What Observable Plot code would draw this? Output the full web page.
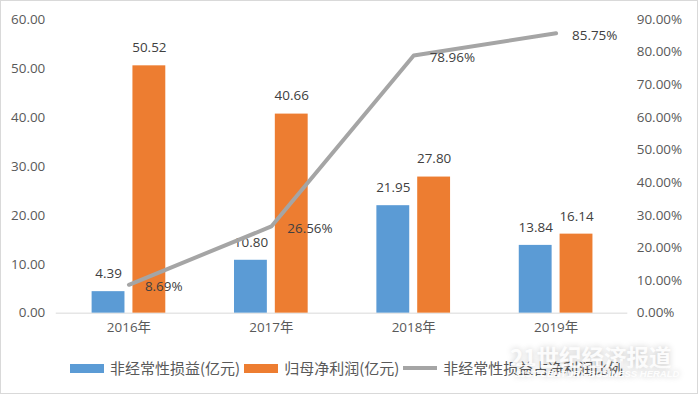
<!DOCTYPE html>
<html><head><meta charset="utf-8">
<script src="https://cdn.jsdelivr.net/npm/d3@7"></script>
<script src="https://cdn.jsdelivr.net/npm/@observablehq/plot@0.6"></script>
<style>
body{margin:0;background:#fff;}
#wrap{position:relative;width:698px;height:394px;border:1px solid #d9d9d9;box-sizing:border-box;overflow:hidden;font-family:"Open Sans","Noto Sans CJK SC",sans-serif;}
#chart{position:absolute;left:-1px;top:-1px;}
#legend{position:absolute;left:69px;top:357px;display:flex;align-items:center;font-family:"Noto Sans CJK SC",sans-serif;font-size:15px;color:#595959;white-space:nowrap;line-height:20px;}
#legend .sw{width:34px;height:9px;margin-right:6px;}
#legend .ln{width:34px;height:3.5px;margin-right:6px;}
#legend .tx{margin-right:4px;}
#wm{position:absolute;left:509px;top:343px;color:rgba(255,255,255,0.92);text-shadow:0 0 6px rgba(0,0,0,0.22);font-family:"Noto Sans CJK SC",sans-serif;white-space:nowrap;}
#wm .a{font-size:22.5px;font-weight:bold;line-height:24px;}
#wm .b{font-size:9.5px;font-style:italic;font-weight:bold;font-family:"Liberation Sans",sans-serif;line-height:12px;margin-left:5px;}
</style></head><body>
<div id="wrap"><div id="chart"></div><div id="legend"></div><div id="wm"></div></div>
<script>
const years = ["2016年","2017年","2018年","2019年"];
const nonRecurring = [4.39, 10.80, 21.95, 13.84];
const netProfit = [50.52, 40.66, 27.80, 16.14];
const ratio = [8.69, 26.56, 78.96, 85.75];
const leftTicks = [0, 10, 20, 30, 40, 50, 60];
const rightTicks = [0, 10, 20, 30, 40, 50, 60, 70, 80, 90];
const seriesNames = ["非经常性损益(亿元)", "归母净利润(亿元)", "非经常性损益占净利润比例"];
const colors = ["#5b9bd5", "#ed7d31", "#a5a5a5"];
const watermark = ["21世纪经济报道", "21ST CENTURY BUSINESS HERALD"];

const k = 60 / 90; // right axis (percent) mapped onto left axis
const blue = years.map((y, i) => ({year: y, v: nonRecurring[i]}));
const orange = years.map((y, i) => ({year: y, v: netProfit[i]}));
const line = years.map((y, i) => ({year: y, r: ratio[i]}));

const plot = Plot.plot({
  width: 700, height: 345,
  marginLeft: 56, marginRight: 70, marginTop: 19, marginBottom: 31,
  style: {fontFamily: '"Open Sans","Noto Sans CJK SC",sans-serif', fontSize: "13.5px", color: "#595959", background: "transparent"},
  x: {domain: years, paddingInner: 0.4843, paddingOuter: 0.2422, label: null},
  y: {domain: [0, 60], label: null},
  marks: [
    Plot.axisX({tickSize: 0, tickPadding: 9, fill: "#595959"}),
    Plot.axisY(leftTicks, {anchor: "left", tickSize: 0, tickPadding: 11, fill: "#595959", tickFormat: d => d.toFixed(2)}),
    Plot.axisY(rightTicks.map(t => t * k), {anchor: "right", tickSize: 0, tickPadding: 9, fill: "#595959", tickFormat: d => (d / k).toFixed(2) + "%"}),
    Plot.ruleY([0], {stroke: "#d9d9d9"}),
    Plot.barY(blue, {x: "year", y: "v", fill: colors[0], insetRight: 41}),
    Plot.barY(orange, {x: "year", y: "v", fill: colors[1], insetLeft: 41}),
    Plot.text(blue, {x: "year", y: "v", text: d => d.v.toFixed(2), dx: -20.5, dy: -18, fill: "#404040"}),
    Plot.text(orange, {x: "year", y: "v", text: d => d.v.toFixed(2), dx: 20.5, dy: -18, fill: "#404040"}),
    Plot.line(line, {x: "year", y: d => d.r * k, stroke: colors[2], strokeWidth: 4, strokeLinejoin: "round", strokeLinecap: "round"}),
    Plot.text(line, {x: "year", y: d => d.r * k, text: d => d.r.toFixed(2) + "%", textAnchor: "start", dx: 16, dy: 2, fill: "#404040"})
  ]
});
document.getElementById("chart").appendChild(plot);

const lg = document.getElementById("legend");
seriesNames.forEach((n, i) => {
  const s = document.createElement("div");
  s.className = i < 2 ? "sw" : "ln";
  s.style.background = colors[i];
  lg.appendChild(s);
  const t = document.createElement("span");
  t.className = "tx";
  t.textContent = n;
  lg.appendChild(t);
});
const wm = document.getElementById("wm");
wm.innerHTML = `<div class="a">${watermark[0]}</div><div class="b">${watermark[1]}</div>`;
</script>
</body></html>
